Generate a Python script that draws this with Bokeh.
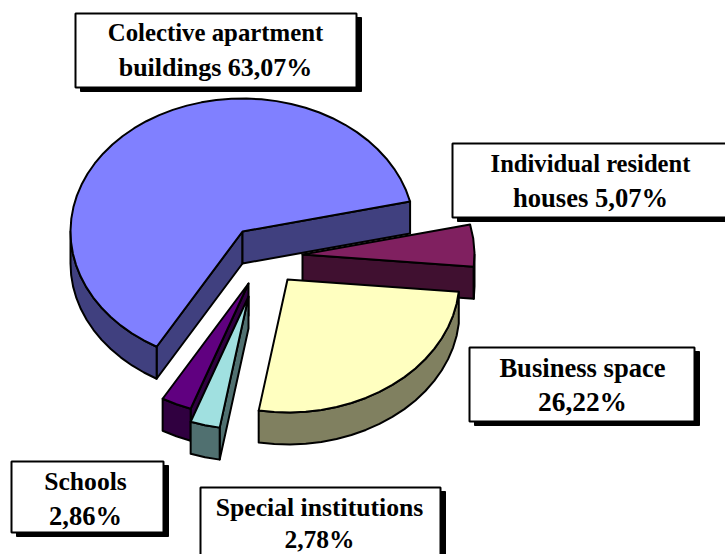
import numpy as np
from bokeh.plotting import figure
from bokeh.embed import file_html
from bokeh.resources import INLINE
from bokeh.core.properties import value

# --- data ---
categories = ["Colective apartment buildings", "Individual resident houses",
              "Business space", "Special institutions", "Schools"]
shares = [63.07, 5.07, 26.22, 2.78, 2.86]
label_lines = [("Colective apartment", "buildings 63,07%"),
               ("Individual resident", "houses 5,07%"),
               ("Business space", "26,22%"),
               ("Special institutions", "2,78%"),
               ("Schools", "2,86%")]

# --- styling / layout ---
top_colors = ["#8080FF", "#802060", "#FFFFC0", "#A0E0E0", "#600080"]
side_colors = ["#40407F", "#401030", "#808060", "#507070", "#300040"]
apexes = [(242, 231), (302, 254), (287, 279), (248, 296), (248, 283)]
boxes = [(75, 13, 356, 87), (452, 143, 740, 217), (469, 347, 694, 421),
         (200, 487, 440, 570), (11, 461, 163, 532)]
text_x = [215, 590, 582, 319, 85]
text_y = [(32, 67), (163, 197), (367, 401), (507, 539), (481, 515)]
text_px = [(24.8, 26), (24.6, 26.6), (26.6, 27.4), (25.7, 25.5), (25.6, 26.5)]
draw_order = [0, 1, 2, 4, 3]
RX, RY, DEPTH = 172, 133, 32
START = 13.0  # angle where the first slice's clockwise edge sits

W, H = 725, 554
p = figure(width=W, height=H, x_range=(0, W), y_range=(H, 0),
           toolbar_location=None, output_backend="svg", min_border=0,
           outline_line_color=None, background_fill_color="white")
p.axis.visible = False
p.grid.visible = False

def pt(c, deg, dz=0):
    t = np.radians(deg)
    return c[0] + RX * np.cos(t), c[1] - RY * np.sin(t) + dz

def arc(c, a0, a1, dz=0, step=5.0):
    n = max(2, int(abs(a1 - a0) / step) + 1)
    a = np.linspace(a0, a1, n)
    t = np.radians(a)
    return list(c[0] + RX * np.cos(t)), list(c[1] - RY * np.sin(t) + dz)

def poly(xs, ys, color):
    p.patch(xs, ys, fill_color=color, line_color="black", line_width=2, line_join="round")

# slice angular ranges (clockwise from START, first slice ccw)
spans = [s * 3.6 for s in shares]
ranges = [(START, START + spans[0])]
hi = START
for s in spans[1:]:
    ranges.append((hi - s, hi))
    hi -= s

for order in draw_order:
    c = apexes[order]
    lo, hi = ranges[order]
    side, top = side_colors[order], top_colors[order]
    for ang, vis in ((hi, np.cos(np.radians(hi)) < 0), (lo, np.cos(np.radians(lo)) > 0)):
        if vis:
            ex, ey = pt(c, ang)
            poly([c[0], ex, ex, c[0]], [c[1], ey, ey + DEPTH, c[1] + DEPTH], side)
    # front-facing part of the rim
    for k0, k1 in ((-180, 0), (180, 360)):
        a0, a1 = max(lo, k0), min(hi, k1)
        if a1 > a0:
            ux, uy = arc(c, a0, a1)
            lx, ly = arc(c, a1, a0, DEPTH)
            poly(ux + lx, uy + ly, side)
    ax, ay = arc(c, lo, hi)
    poly([c[0]] + ax, [c[1]] + ay, top)

for (x0, y0, x1, y1), lines, tx, ty, px in zip(boxes, label_lines, text_x, text_y, text_px):
    p.quad(left=x0 + 5, right=x1 + 5, top=y0 + 4, bottom=y1 + 4, fill_color="black", line_color="black")
    p.quad(left=x0, right=x1, top=y0, bottom=y1, fill_color="white", line_color="black", line_width=2)
    for s, y, size in zip(lines, ty, px):
        p.text([tx], [y], text=[s], text_font=value("Liberation Serif"), text_font_style="bold",
               text_font_size=f"{size}px", text_align="center", text_baseline="middle", text_color="black")

open("out.html", "w").write(file_html(p, INLINE))
